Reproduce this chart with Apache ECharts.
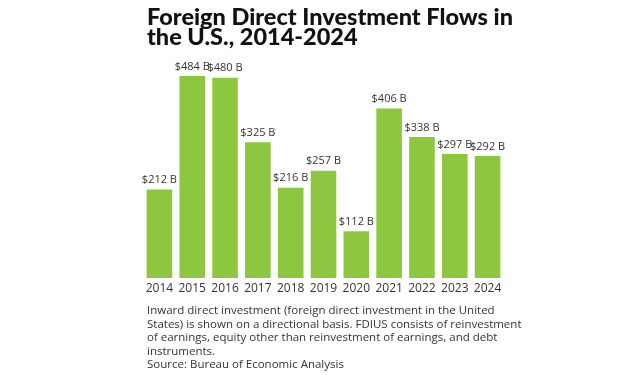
<!DOCTYPE html>
<html><head><meta charset="utf-8">
<script src="https://cdn.jsdelivr.net/npm/echarts@6/dist/echarts.min.js"></script>
<style>html,body{margin:0;padding:0;background:#fff}#c{width:638px;height:375px}</style>
</head><body><div id="c"></div>
<script>
const years = ['2014','2015','2016','2017','2018','2019','2020','2021','2022','2023','2024'];
const fdiBillions = [212, 484, 480, 325, 216, 257, 112, 406, 338, 297, 292];
const titleLines = ['Foreign Direct Investment Flows in', 'the U.S., 2014-2024'];
const noteLines = [
  'Inward direct investment (foreign direct investment in the United',
  'States) is shown on a directional basis. FDIUS consists of reinvestment',
  'of earnings, equity other than reinvestment of earnings, and debt',
  'instruments.',
  'Source: Bureau of Economic Analysis'
];
const chart = echarts.init(document.getElementById('c'));
chart.setOption({
  animation: false,
  title: {
    text: titleLines.join('\n'),
    left: 142, top: 2,
    textStyle: {fontFamily: 'Lato', fontWeight: 900, fontSize: 23.5, lineHeight: 20, color: '#111'}
  },
  grid: {left: 143, right: 134, top: 69.3, bottom: 97},
  xAxis: {
    type: 'category', data: years,
    axisLine: {show: false}, axisTick: {show: false},
    axisLabel: {interval: 0, margin: 5, fontFamily: 'Open Sans', fontSize: 12, color: '#333'}
  },
  yAxis: {type: 'value', min: 0, max: 500, show: false, splitLine: {show: false}},
  series: [{
    type: 'bar', data: fdiBillions, barCategoryGap: '22%',
    itemStyle: {color: '#8DC63F'},
    label: {show: true, position: 'top', distance: 4, fontFamily: 'Open Sans', fontSize: 11, color: '#333',
      formatter: p => '$' + p.value + ' B'}
  }],
  graphic: [{
    type: 'text', left: 147, top: 304,
    style: {text: noteLines.join('\n'), fontFamily: 'Open Sans', fontSize: 11.5, lineHeight: 13.6, fill: '#333'}
  }]
});
</script></body></html>
